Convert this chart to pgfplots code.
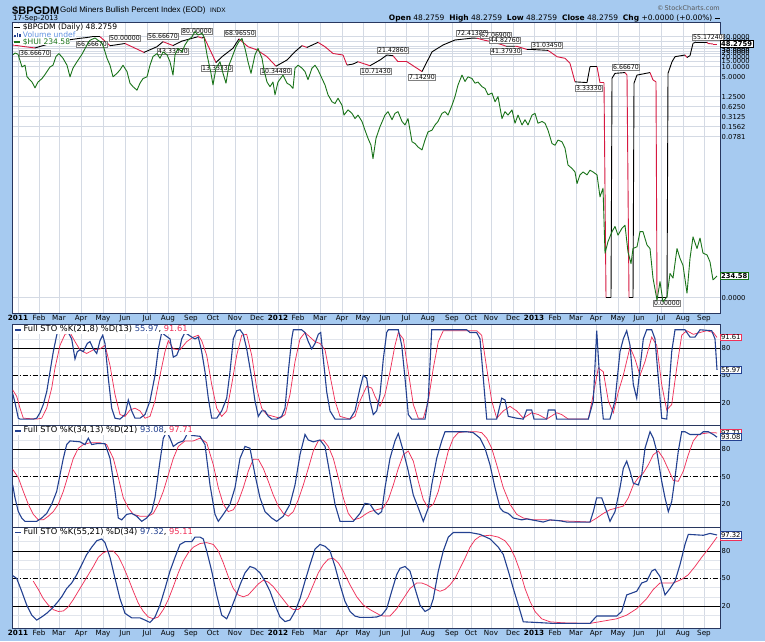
\documentclass[border=0pt]{standalone}
\usepackage{pgfplots}
\pgfplotsset{compat=1.18}
\usepackage{pgfplotstable}
\usepackage{fontspec}
\setmainfont{DejaVu Sans}
\newfontfamily\arial{Liberation Sans}

\definecolor{bgblue}{RGB}{166,202,240}
\definecolor{frame}{RGB}{40,55,95}
\definecolor{gridc}{RGB}{212,218,228}
\definecolor{kblue}{RGB}{35,65,145}
\definecolor{dred}{RGB}{240,50,90}
\definecolor{bpred}{RGB}{215,25,65}
\definecolor{huigreen}{RGB}{25,115,25}
\definecolor{volblue}{RGB}{95,145,225}

\newcommand\tkf{\fontsize{6.8}{7}\selectfont}
\newcommand\lgf{\fontsize{8.3}{9}\selectfont}
\newcommand\tlf{\fontsize{7.6}{8}\selectfont}
\newcommand\bxf{\fontsize{6.2}{6.5}\selectfont}
\newcommand\ldash[1]{\textcolor{#1}{\rule[0.3ex]{6pt}{1.4pt}}}

% x = trading day index (0 = first session of 2011)
% $BPGDM, c = 1 where the segment that starts there is falling (red)
\pgfplotstableread{
d v c
-5 45 1
7 40 1
17 36.6667 0
27 45 0
37 55 0
47 63 0
50 63.7 0
62 71.6 0
68 75 0
74 80 0
82 80 1
92 43 0
97 45 0
107 50 1
126 27 0
139 40 0
145 56.6667 1
155 43.3333 0
164 59 0
174 71.6 0
180 80 1
184 73 0
186 78 1
198 13.3333 0
204 20 0
215 36 0
221 68.9655 1
230 40 1
239 32 1
249 20 1
258 10.3448 0
269 15.9 0
277 28.3 0
284 43 1
289 38 0
300 54 1
307 40 1
315 25 1
325 22.5 1
329 11.2 0
335 12 0
340 14.1 1
352 10.7143 0
362 15.9 0
369 22.5 0
375 21.4286 1
380 14.1 1
389 14.1 1
404 7.1429 0
414 28 0
425 45 0
437 63.7 0
454 72.4138 0
459 72 1
467 62.069 1
474 56.6 1
485 44.8276 1
488 41.3793 0
497 41.4 1
499 41 1
509 33 0
514 33 0
530 31.0345 1
539 20 1
547 17.9 1
552 12.6 1
557 3.5 0
569 3.3333 0
572 10 0
579 10 1
582 3.3 1
586 3.3 1
588 0 0
593 0 0
594 4.5 0
597 6.3 0
607 6.6667 1
609 5.6 1
611 0 0
615 0 0
616 3.2 0
619 5.6 0
632 6.6667 1
635 4 1
638 3.5 1
639 0 0
649 0 0
650 6.3 0
654 14.1 0
657 20 0
667 22.5 1
669 19 0
672 21.5 0
675 50.6 0
678 55.1724 0
689 55.1724 1
690 50 1
695 48.2759 1
699 48.2759 1
}\bpg

\pgfplotstableread{
d h
-5 616
-3 619
0 617
4 595
7 598
9 578
14 569
17 559
20 569
24 575
27 582
32 595
35 598
38 613
41 618
45 610
49 598
52 578
55 593
59 604
64 617
69 633
72 641
77 645
80 641
84 636
86 627
89 610
92 598
95 578
99 584
102 590
105 598
109 587
112 567
115 561
119 555
122 567
125 575
129 578
132 598
135 613
139 618
142 610
145 621
149 616
152 604
155 581
157 616
160 627
164 621
167 633
170 641
174 647
177 656
180 650
184 653
186 647
189 616
193 584
195 564
198 593
202 604
205 584
208 567
211 598
215 616
218 630
221 639
224 644
227 627
230 604
233 584
237 616
240 627
244 610
246 590
249 569
252 561
255 569
257 547
260 569
265 581
269 567
272 564
275 558
277 593
280 598
284 593
287 587
290 573
294 593
297 598
300 590
304 575
307 564
310 547
314 535
317 532
320 541
324 529
326 512
330 521
334 515
337 506
340 512
344 501
347 486
350 472
353 460
355 437
358 472
362 492
367 512
370 518
374 504
377 515
380 518
384 501
387 495
390 506
394 466
397 463
400 457
404 452
407 469
410 483
414 486
417 495
420 501
424 515
427 518
430 512
434 529
437 544
440 564
444 581
447 570
450 578
454 575
457 567
460 569
464 561
467 558
470 547
474 550
477 535
480 544
484 506
487 518
490 512
494 521
497 498
500 512
504 495
507 504
510 495
514 512
517 515
520 498
524 501
527 498
530 486
534 463
537 460
540 469
544 466
547 455
550 426
554 420
557 414
559 394
562 409
565 414
569 409
572 417
575 414
579 409
582 371
585 386
587 274
590 294
594 311
597 320
600 305
604 317
607 322
610 276
613 256
615 282
619 285
622 311
625 311
629 288
632 282
635 231
639 193
642 225
645 190
649 199
652 239
655 231
659 282
662 265
665 253
669 205
672 265
675 302
679 282
682 300
685 274
689 271
692 259
695 228
699 234.58
}\hui

% Full STO %K(21,8) / %D(13)
\pgfplotstableread{
d v
-5.3 30
-3 20
0.3 3
2 2
15.3 2
18.7 3
22 9
25.3 18
28.7 32
32 54
35.3 76
38.7 94
40.3 100
45 100
50.3 97
53.7 90
57 68
59.3 76
62 78
65.3 76
69.3 85
72 87
75.3 79
78.7 74
82 88
84.7 94
87 85
90.3 47
93.7 14
97 3
102 2
107 7
110.3 23
113.7 11
117 3
122 3
127 7
132 22
137 50
140.3 79
143.7 97
147 94
152 90
155.3 70
158.7 72
162 81
163.7 90
167 97
173.7 92
177 90
180.3 92
183.7 76
187 54
190.3 25
193.7 3
198.7 3
203.7 11
208.7 25
212 54
215.3 90
218.7 99
222 100
225.3 95
228.7 79
233.7 47
237 22
240.3 5
243.7 11
247 11
250.3 5
253.7 2
258.7 2
263.7 5
267 14
270.3 54
273.7 90
275.3 100
283.7 100
287 97
290.3 87
293.7 79
297 85
300.3 95
302.7 97
305.3 68
308.7 32
312 11
317 2
332 2
337 11
342 36
345.3 50
348.7 47
352 22
355.3 7
358.7 11
362 29
365.3 68
368.7 97
370.3 100
380.3 100
383.7 83
387 47
390.3 7
393.7 2
407 2
410.3 25
413.7 100
448.7 100
452 97
458.7 97
462 90
465.3 47
468.7 2
478.7 2
483.7 25
487 23
490.3 5
498.7 3
505.3 2
508.7 12
513.7 12
516 2
528.7 2
530.3 12
537 12
538.7 2
570.3 2
575.3 22
578.7 99
582 40
585.3 2
592 2
597 22
602 76
605.3 90
608.7 99
612 83
615.3 40
618.7 25
622 58
625.3 90
628.7 100
633.7 100
637 90
640.3 47
643.7 3
648.7 2
650.3 25
653.7 76
657 100
667 100
672 92
677 92
682 100
693.7 99
697 90
699 55.97
}\sKa
\pgfplotstableread{
d v
-5.3 34
-1.3 27
2 14
5.3 3
18.7 2
23.7 3
28.7 14
33.7 36
37 58
42 83
47 95
52 97
57 87
62 78
68.7 74
75.3 78
82 79
87 83
92 61
97 29
102 7
107 5
112 12
117 14
122 11
127 3
132 5
137 22
142 50
147 76
150.3 88
155.3 79
162 78
168.7 87
175.3 92
180.3 94
183.7 88
188.7 72
193.7 40
198.7 14
203.7 5
208.7 11
213.7 40
218.7 72
223.7 94
228.7 95
233.7 72
238.7 36
243.7 14
248.7 7
255.3 5
262 3
267 7
272 29
277 65
282 90
287 97
292 92
297 87
302 85
307 78
312 50
317 22
322 5
332 2
337 5
342 22
348.7 38
353.7 36
357 27
362 16
367 29
372 54
377 83
380.3 97
385.3 90
390.3 54
395.3 18
400.3 3
405.3 3
410.3 22
415.3 58
420.3 87
425.3 99
458.7 99
463.7 94
468.7 58
473.7 22
478.7 3
485.3 11
492 16
498.7 11
505.3 3
513.7 9
520.3 7
528.7 2
538.7 9
543.7 7
550.3 2
570.3 2
575.3 29
580.3 58
585.3 54
590.3 22
595.3 9
600.3 32
605.3 50
612 81
617 68
622 50
627 65
633.7 92
638.7 83
643.7 40
648.7 12
653.7 18
658.7 58
663.7 94
668.7 99
675.3 95
682 97
688.7 99
695.3 97
699 91.61
}\sDa

% Full STO %K(34,13) / %D(21)
\pgfplotstableread{
d v
-5.3 41
-3 27
0.3 12
3.7 5
7 1.4
18.7 1.4
23.7 5
28.7 10
33.7 20
38.7 34
42 52
45.3 70
48.7 85
52 89
62 88
67 85
70.3 92
73.7 85
78.7 86
87 86
92 70
97 34
100.3 5
103.7 3
108.7 9
113.7 10
118.7 7
123.7 1.4
128.7 5
133.7 12
137 27
142 67
145.3 92
148.7 99
152 92
155.3 83
160.3 87
165.3 89
167 92
170.3 99
173.7 95
182 94
187 85
192 41
197 9
200.3 1.4
205.3 9
212 20
217 38
222 70
227 83
232 81
237 52
242 27
247 12
253.7 5
258.7 1.4
265.3 7
272 20
277 41
282 74
287 96
290.3 90
295.3 88
302 90
307 83
312 52
317 20
322 1.4
335.3 1.4
342 10
347 21
352 20
357 12
360.3 9
363.7 12
367 38
372 70
377 89
380.3 97
385.3 78
390.3 56
395.3 30
400.3 16
405.3 1.4
410.3 16
413.7 41
418.7 70
423.7 89
427 99
448.7 99
455.3 98
462 92
467 81
472 63
477 38
482 16
485.3 12
490.3 10
495.3 5
503.7 3
508.7 4
518.7 2
525.3 0.6
532 3
542 2
548.7 0.6
572 0.6
575.3 12
578.7 27
583.7 27
588.7 12
592 1.4
597 12
602 38
605.3 59
608.7 67
612 56
615.3 43
620.3 41
623.7 52
627 81
632 99
635.3 92
638.7 78
643.7 45
647 27
650.3 12
653.7 23
657 49
660.3 78
663.7 99
667 99
672 96
682 96
685.3 99
690.3 99
695.3 96
699 93.08
}\sKb
\pgfplotstableread{
d v
-5.3 58
0.3 49
5.3 34
10.3 20
15.3 9
20.3 3
25.3 3
30.3 7
35.3 12
40.3 20
45.3 34
50.3 52
55.3 70
60.3 81
65.3 85
72 87
82 87
88.7 85
95.3 70
100.3 49
105.3 27
110.3 16
115.3 9
122 7
130.3 7
135.3 10
140.3 20
145.3 34
150.3 52
155.3 70
160.3 83
167 89
175.3 89
182 92
188.7 87
195.3 63
200.3 38
205.3 20
210.3 12
215.3 14
220.3 23
225.3 38
230.3 56
235.3 69
240.3 69
245.3 59
250.3 45
255.3 30
260.3 18
265.3 10
270.3 7
275.3 12
280.3 25
285.3 41
290.3 59
295.3 78
300.3 89
305.3 90
310.3 83
315.3 70
320.3 49
325.3 27
330.3 10
335.3 3
342 5
348.7 10
352 12
358.7 14
365.3 16
370.3 25
375.3 41
380.3 59
385.3 74
390.3 78
395.3 67
400.3 45
405.3 25
410.3 16
415.3 20
420.3 34
425.3 56
430.3 78
435.3 92
440.3 98
447 99
458.7 99
463.7 98
468.7 92
473.7 81
478.7 63
485.3 38
492 20
498.7 9
505.3 5
515.3 3
528.7 3
542 2
555.3 1.4
572 0.6
578.7 5
585.3 10
592 14
598.7 16
605.3 18
610.3 27
615.3 41
620.3 49
625.3 54
630.3 63
635.3 74
640.3 78
645.3 70
650.3 58
655.3 46
660.3 45
665.3 56
670.3 74
675.3 89
680.3 96
685.3 97
692 98
699 97.71
}\sDb

% Full STO %K(55,21) / %D(34)
\pgfplotstableread{
d v
-5.3 53
-1.3 50
3.7 36
8.7 21
13.7 10
18.7 4.6
23.7 8
28.7 12
33.7 17
38.7 23
43.7 30
48.7 39
53.7 45
58.7 54
63.7 65
68.7 76
73.7 84
78.7 91
83.7 93
87 89
92 73
97 50
102 28
107 12
113.7 7
122 7
127 4.6
132 2
137 8
142 21
147 39
152 58
157 73
162 87
167 90
173.7 90
177 95
182 95
185.3 93
188.7 80
193.7 58
198.7 32
203.7 10
208.7 6
212 14
217 28
222 43
227 56
232 63
237 61
242 56
247 47
252 36
257 21
262 8
267 3
272 4.6
277 14
282 28
287 47
292 65
297 82
302 87
307 85
312 80
317 63
322 43
327 25
332 14
337 9
342 7.5
352 7.5
358.7 8
363.7 10
368.7 17
373.7 36
378.7 54
382 61
387 63
392 58
397 39
402 21
407 14
412 17
415.3 28
420.3 58
425.3 80
430.3 95
435.3 100
452 100
462 98
472 93
480.3 84
485.3 76
490.3 58
495.3 39
500.3 21
505.3 2.7
518.7 2
535.3 1
572 1
578.7 9
598.7 9
603.7 14
608.7 32
613.7 34
618.7 36
623.7 45
628.7 47
633.7 58
637 60
642 52
647 32
652 39
657 47
662 65
667 87
670.3 98
685.3 97
692 99
699 97.32
}\sKc
\pgfplotstableread{
d v
15.3 47
20.3 38
25.3 28
30.3 21
35.3 16
40.3 14
45.3 14.5
50.3 19
55.3 27
60.3 36
65.3 45
70.3 54
75.3 63
80.3 73
85.3 78
90.3 80
95.3 80
100.3 74
105.3 63
110.3 50
115.3 36
120.3 23
125.3 14
130.3 8
135.3 6
140.3 8
145.3 16
150.3 27
155.3 41
160.3 56
165.3 69
170.3 78
175.3 84
182 88
188.7 89
195.3 87
200.3 80
205.3 67
210.3 52
215.3 39
220.3 32
225.3 30
230.3 32
235.3 38
240.3 44
245.3 48
250.3 46
255.3 41
260.3 34
265.3 27
270.3 20
275.3 16
280.3 16
285.3 21
290.3 30
295.3 43
300.3 56
305.3 65
310.3 71
315.3 72
320.3 67
325.3 58
332 43
338.7 30
345.3 21
352 16
357 13
362 10
365.3 9
372 9
378.7 17
385.3 28
392 39
398.7 45
403.7 45
408.7 43
415.3 39
422 36
427 38
432 43
437 50
442 61
447 72
452 84
457 92
462 96
472 97
480.3 95
487 91
492 84
497 73
502 58
507 39
512 25
517 14
523.7 6
532 2.7
545.3 1.6
572 1
585.3 3.5
598.7 6
608.7 10
618.7 17
628.7 28
635.3 38
642 45
655.3 45
663.7 49
670.3 54
677 63
683.7 73
690.3 82
697 92
699 95.11
}\sDc

\pgfplotsset{
  panel/.style={
    scale only axis, width=707.3pt, anchor=north west,
    xmin=-5.3, xmax=702,
    axis background/.style={fill=white},
    axis line style={draw=frame, line width=0.7pt},
    xtick={0,21,41,63,85,107,129,150,173,195,217,239,260,280,302,324,345,367,388,410,434,453,473,495,516,537,558,578,600,621,643,665,686},
    xmajorgrids, grid style={gridc, line width=0.5pt},
    major tick length=0pt, minor tick length=0pt, tick style={draw=none},
    yticklabel pos=right,
    yticklabel style={font=\tkf, inner sep=1.5pt, text=black},
    xticklabel style={font=\fontsize{7.2}{8}\selectfont, inner sep=0pt, yshift=-1.6pt},
    clip mode=individual,
  },
  stoch/.style={panel, height=#1, ymin=-4.8, ymax=106,
    ytick={20,50,80}, minor ytick={10,30,40,60,70,90}, yminorgrids,
    minor grid style={gridc!70, line width=0.4pt},
    /pgf/number format/assume math mode=true},
  dates/.style={xticklabels={\textbf{2011},Feb,Mar,Apr,May,Jun,Jul,Aug,Sep,Oct,Nov,Dec,\textbf{2012},Feb,Mar,Apr,May,Jun,Jul,Aug,Sep,Oct,Nov,Dec,\textbf{2013},Feb,Mar,Apr,May,Jun,Jul,Aug,Sep}},
}
\tikzset{
  lbl/.style={draw=gray, fill=white, inner sep=0.7pt, font=\bxf, line width=0.4pt},
  vbox/.style={fill=white, inner sep=0.8pt, font=\tkf, line width=0.6pt},
  lgd/.style={anchor=west, fill=white, inner sep=0.6pt, font=\lgf},
  tlg/.style={anchor=west, fill=white, inner sep=0.2pt, font=\tlf},
}
\newcommand\stolines{%
  \draw[black, line width=0.55pt] (axis cs:-5.3,80) -- (axis cs:702,80);
  \draw[black, line width=0.55pt] (axis cs:-5.3,20) -- (axis cs:702,20);
  \draw[black, line width=0.55pt, dash pattern=on 5pt off 2pt on 1pt off 2pt] (axis cs:-5.3,50) -- (axis cs:702,50);}

\begin{document}
\begin{tikzpicture}
\useasboundingbox (0,0) rectangle (765pt,-641pt);
\fill[bgblue] (0,0) rectangle (765pt,-641pt);

% price panel: $BPGDM on a log scale
\begin{axis}[panel, dates, at={(12.7pt,-22pt)}, height=291pt,
  ymode=log, ymin=3.85e-7, ymax=221.6, ymajorgrids,
  ytick={1.11e-6,0.078125,0.15625,0.3125,0.625,1.25,5,10,15,20,25,30,35,40,60,80},
  yticklabels={0.0000,0.0781,0.1562,0.3125,0.6250,1.2500,5.0000,10.0000,15.0000,20.0000,25.0000,30.0000,35.0000,40.0000,60.0000,80.0000},
  colormap={bpg}{color=(black) color=(bpred)}, point meta min=0, point meta max=1]
\addplot[mesh, shader=flat corner, point meta=\thisrow{c}, line width=0.9pt]
  table[x=d, y expr={max(\thisrow{v},1.11e-6)}] {\bpg};
\node[lbl, anchor=north, yshift=-2pt] at (axis cs:17,36.6667) {36.66670};
\node[lbl, anchor=north, yshift=-2pt] at (axis cs:74,66.6667) {66.66670};
\node[lbl, anchor=south, yshift=2pt] at (axis cs:107,50) {50.00000};
\node[lbl, anchor=south, yshift=2pt] at (axis cs:145,56.6667) {56.66670};
\node[lbl, anchor=north, yshift=-2pt] at (axis cs:155,43.3333) {43.33330};
\node[lbl, anchor=south, yshift=2pt] at (axis cs:179,80) {80.00000};
\node[lbl, anchor=north, yshift=-2pt] at (axis cs:199,13.3333) {13.33330};
\node[lbl, anchor=south, yshift=2pt] at (axis cs:222,68.9655) {68.96550};
\node[lbl, anchor=north, yshift=-2pt] at (axis cs:258,10.3448) {10.34480};
\node[lbl, anchor=north, yshift=-2pt] at (axis cs:358,10.7143) {10.71430};
\node[lbl, anchor=south, yshift=2pt] at (axis cs:375,21.4286) {21.42860};
\node[lbl, anchor=north, yshift=-2pt] at (axis cs:404,7.1429) {7.14290};
\node[lbl, anchor=south, yshift=2pt] at (axis cs:454,72.4138) {72.41380};
\node[lbl, anchor=south, yshift=2pt] at (axis cs:478,62.069) {62.06900};
\node[lbl, anchor=south, yshift=2pt] at (axis cs:487,44.8276) {44.82760};
\node[lbl, anchor=north, yshift=-2pt] at (axis cs:488,41.3793) {41.37930};
\node[lbl, anchor=south, yshift=2pt] at (axis cs:529,31.0345) {31.03450};
\node[lbl, anchor=north, yshift=-2pt] at (axis cs:571,3.3333) {3.33330};
\node[lbl, anchor=south, yshift=2pt] at (axis cs:608,6.6667) {6.66670};
\node[lbl, anchor=north, yshift=-2pt] at (axis cs:649,1.11e-6) {0.00000};
\node[lbl, anchor=south, yshift=2pt] at (axis cs:690,55.1724) {55.17240};
\node[vbox, draw=black, anchor=west, font=\tkf\bfseries] at (axis cs:702,48.2759) {48.2759};
\end{axis}

% $HUI overlay, own scale
\begin{axis}[scale only axis, anchor=north west, at={(12.7pt,-22pt)}, width=707.3pt, height=291pt,
  xmin=-5.3, xmax=702, ymin=170.8, ymax=672.5, hide axis, clip mode=individual]
\addplot[huigreen, line width=0.9pt, line join=round] table[x=d, y=h] {\hui};
\node[vbox, draw=huigreen, anchor=west, font=\tkf\bfseries] at (axis cs:702,234.58) {234.58};
\end{axis}

% Full STO panels
\begin{axis}[stoch=101pt, at={(12.7pt,-324.3pt)}, xmajorticks=false]
\stolines
\addplot[dred, line width=0.75pt] table[x=d, y=v] {\sDa};
\addplot[kblue, line width=1.1pt] table[x=d, y=v] {\sKa};
\node[lgd] at ([xshift=1.5pt, yshift=-5pt]rel axis cs:0,1) {\ldash{kblue}\ Full STO \%K(21,8) \%D(13) \textcolor{kblue}{55.97}, \textcolor{dred}{91.61}};
\node[vbox, draw=dred, anchor=west] at (axis cs:702,91.61) {91.61};
\node[vbox, draw=kblue, anchor=west] at (axis cs:702,55.97) {55.97};
\end{axis}

\begin{axis}[stoch=101.7pt, at={(12.7pt,-425.3pt)}, xmajorticks=false]
\stolines
\addplot[dred, line width=0.75pt] table[x=d, y=v] {\sDb};
\addplot[kblue, line width=1.1pt] table[x=d, y=v] {\sKb};
\node[lgd] at ([xshift=1.5pt, yshift=-5pt]rel axis cs:0,1) {\ldash{kblue}\ Full STO \%K(34,13) \%D(21) \textcolor{kblue}{93.08}, \textcolor{dred}{97.71}};
\node[vbox, draw=dred, anchor=west] at (axis cs:702,97.71) {97.71};
\node[vbox, draw=kblue, anchor=west] at (axis cs:702,93.08) {93.08};
\end{axis}

\begin{axis}[stoch=101.7pt, dates, at={(12.7pt,-527pt)}]
\stolines
\addplot[dred, line width=0.75pt] table[x=d, y=v] {\sDc};
\addplot[kblue, line width=1.1pt] table[x=d, y=v] {\sKc};
\node[lgd] at ([xshift=1.5pt, yshift=-5pt]rel axis cs:0,1) {\ldash{kblue}\ Full STO \%K(55,21) \%D(34) \textcolor{kblue}{97.32}, \textcolor{dred}{95.11}};
\node[vbox, draw=dred, anchor=west] at (axis cs:702,95.11) {95.11};
\node[vbox, draw=kblue, anchor=west] at (axis cs:702,97.32) {97.32};
\end{axis}

% legend of the price panel
\node[tlg] at (14pt,-27.5pt) {\ldash{black}\ \$BPGDM (Daily) 48.2759};
\node[tlg, text=volblue] at (14pt,-34.6pt) {\textcolor{kblue}{\rule{1.2pt}{2.5pt}\,\rule{1.2pt}{4.5pt}\,\rule{1.2pt}{3.5pt}}\ Volume undef};
\node[tlg, text=huigreen] at (14pt,-41.7pt) {\ldash{huigreen}\ \$HUI 234.58};

% header
\node[anchor=base west, inner sep=0pt, font=\arial\bfseries\fontsize{11}{12}\selectfont] at (12pt,-14.5pt) {\$BPGDM};
\node[anchor=base west, inner sep=0pt, font=\arial\fontsize{8}{9}\selectfont] at (60pt,-12.5pt) {Gold Miners Bullish Percent Index (EOD)};
\node[anchor=base west, inner sep=0pt, font=\arial\fontsize{6.5}{7}\selectfont] at (210pt,-12.5pt) {INDX};
\node[anchor=base west, inner sep=0pt, font=\fontsize{7}{8}\selectfont] at (13pt,-20.5pt) {17-Sep-2013};
\node[anchor=base east, inner sep=0pt, font=\fontsize{6.5}{7}\selectfont, text=black!65] at (720pt,-10.5pt) {\textcopyright\,StockCharts.com};
\node[anchor=base east, inner sep=0pt, font=\fontsize{7.5}{8}\selectfont] at (720pt,-20pt)
  {\textbf{Open} 48.2759\ \ \textbf{High} 48.2759\ \ \textbf{Low} 48.2759\ \ \textbf{Close} 48.2759\ \ \textbf{Chg} +0.0000 (+0.00\%) \rule[0.3ex]{5pt}{1.2pt}};
\end{tikzpicture}
\end{document}
